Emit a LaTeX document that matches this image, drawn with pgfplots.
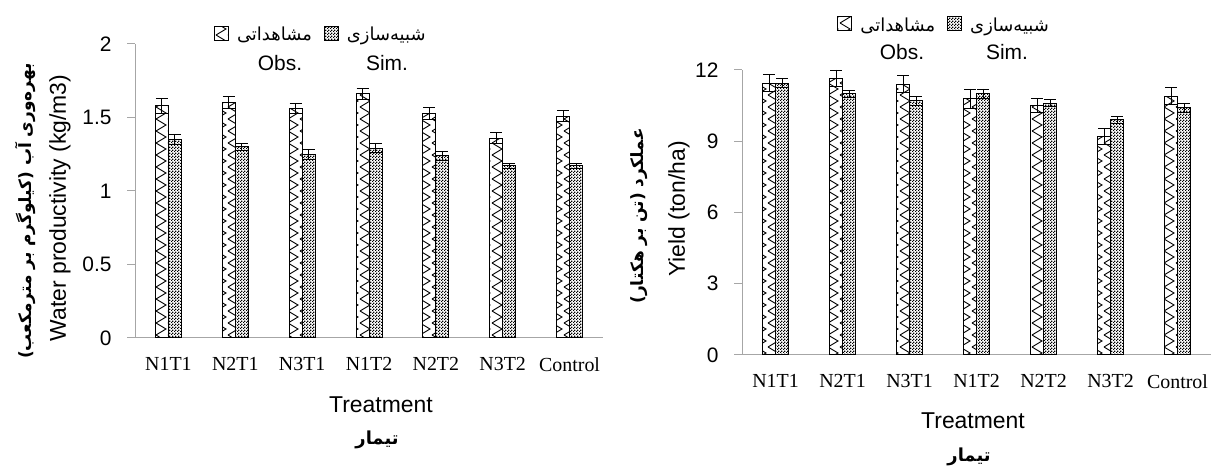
\documentclass[border=0pt]{standalone}
\usepackage{fontspec}
\setmainfont{Liberation Sans}
\newfontfamily\timesfont{Liberation Serif}
\newfontfamily\arabicfont[Script=Arabic]{DejaVu Sans}
\usepackage{pgfplots}
\usepackage{pgfplotstable}
\pgfplotsset{compat=1.18}
\usetikzlibrary{patterns.meta}
\TeXXeTstate=1

\tikzdeclarepattern{
  name=obszig,
  type=uncolored,
  bounding box={(-1bp,-1bp) and (13bp,13bp)},
  tile size={(12bp,12bp)},
  code={\draw[line width=0.9pt] (0bp,0bp) -- (10bp,6bp) -- (0bp,12bp);}
}
\tikzdeclarepattern{
  name=checker,
  type=uncolored,
  bounding box={(0bp,0bp) and (3bp,3bp)},
  tile size={(3bp,3bp)},
  code={\fill (0bp,0bp) rectangle (1.5bp,1.5bp); \fill (1.5bp,1.5bp) rectangle (3bp,3bp);}
}

\pgfplotstableread{
x y e
0 1.58 0.05
1 1.60 0.04
2 1.56 0.035
3 1.66 0.04
4 1.53 0.04
5 1.36 0.035
6 1.51 0.035
}\wpobs
\pgfplotstableread{
x y e
0 1.35 0.035
1 1.30 0.025
2 1.25 0.035
3 1.29 0.03
4 1.24 0.03
5 1.17 0.02
6 1.17 0.02
}\wpsim
\pgfplotstableread{
x y e
0 11.45 0.35
1 11.65 0.35
2 11.40 0.35
3 10.80 0.40
4 10.50 0.30
5 9.20 0.35
6 10.90 0.35
}\ydobs
\pgfplotstableread{
x y e
0 11.45 0.20
1 11.00 0.15
2 10.70 0.20
3 11.00 0.20
4 10.60 0.15
5 9.90 0.15
6 10.40 0.20
}\ydsim

\pgfplotsset{
  obsbar/.style={draw=black, line width=1pt,
    pattern=obszig, pattern color=black, preaction={fill=white}},
  simbar/.style={draw=black, line width=1pt,
    pattern=checker, pattern color=black, preaction={fill=white}},
  myerr/.style={error bars/.cd, y dir=both, y explicit,
    error bar style={black, line width=0.9pt},
    error mark options={rotate=90, mark size=6bp, black, line width=0.9pt}},
  mychart/.style={
    scale only axis, anchor=south west,
    ybar=0pt, bar width=13bp,
    xmin=-0.5, xmax=6.5, ymin=0,
    axis x line*=bottom, axis y line*=left,
    axis line style={draw=gray!70, line width=1pt},
    xtick={0,...,6},
    xticklabels={N1T1,N2T1,N3T1,N1T2,N2T2,N3T2,Control},
    x tick style={draw=none},
    y tick style={draw=gray!70, line width=1pt},
    tick align=outside, major tick length=8bp,
    /pgf/number format/assume math mode=true,
    xticklabel style={font=\timesfont\fontsize{20}{22}\selectfont, yshift=-8bp},
    yticklabel style={font=\fontsize{21}{24}\selectfont, xshift=-12bp},
    clip=false,
    legend columns=2,
    every axis plot post/.append style={
      legend image code/.code={\draw[##1, line width=1pt] (0bp,-6bp) rectangle (14bp,8bp);}},
    legend style={draw=none, fill=none, anchor=center,
      font=\arabicfont\fontsize{18}{21}\selectfont,
      /tikz/every odd column/.append style={column sep=6bp},
      /tikz/every even column/.append style={column sep=10bp}},
  }
}

\begin{document}
\begin{tikzpicture}[x=1bp,y=1bp]
\useasboundingbox (0,0) rectangle (1215,467);

\begin{axis}[mychart, at={(135bp,129bp)}, width=468bp, height=294bp,
  ymax=2, ytick={0,0.5,1,1.5,2},
  legend style={at={(0.397,1.031)}}]
\addplot[obsbar, myerr] table[x=x, y=y, y error=e] {\wpobs};
\addlegendentry{\beginR مشاهداتی\endR}
\addplot[simbar, myerr] table[x=x, y=y, y error=e] {\wpsim};
\addlegendentry{\beginR شبیه‌سازی\endR}
\end{axis}

\begin{axis}[mychart, at={(742bp,112bp)}, width=469bp, height=285bp,
  ymax=12, ytick={0,3,6,9,12},
  legend style={at={(0.431,1.158)}}]
\addplot[obsbar, myerr] table[x=x, y=y, y error=e] {\ydobs};
\addlegendentry{\beginR مشاهداتی\endR}
\addplot[simbar, myerr] table[x=x, y=y, y error=e] {\ydsim};
\addlegendentry{\beginR شبیه‌سازی\endR}
\end{axis}

% legend sublabels
\node[font=\fontsize{21}{24}\selectfont] at (280,404) {Obs.};
\node[font=\fontsize{21}{24}\selectfont] at (387,404) {Sim.};
\node[font=\fontsize{21}{24}\selectfont] at (902,415) {Obs.};
\node[font=\fontsize{21}{24}\selectfont] at (1007,415) {Sim.};

% x labels
\node[font=\fontsize{23}{26}\selectfont] at (381,62) {Treatment};
\node[font=\arabicfont\bfseries\fontsize{18}{21}\selectfont] at (377,27) {\beginR تیمار\endR};
\node[font=\fontsize{23}{26}\selectfont] at (973,46) {Treatment};
\node[font=\arabicfont\bfseries\fontsize{18}{21}\selectfont] at (969,10) {\beginR تیمار\endR};

% y labels
\node[rotate=90, font=\fontsize{23}{26}\selectfont] at (60,259) {Water productivity (kg/m3)};
\node[rotate=90, font=\arabicfont\bfseries\fontsize{17}{20}\selectfont] at (25,256) {\beginR بهره‌وری آب (کیلوگرم بر مترمکعب)\endR};
\node[rotate=90, font=\fontsize{23}{26}\selectfont] at (679,258) {Yield (ton/ha)};
\node[rotate=90, font=\arabicfont\bfseries\fontsize{17}{20}\selectfont] at (639,251) {\beginR عملکرد (تن بر هکتار)\endR};
\end{tikzpicture}
\end{document}
